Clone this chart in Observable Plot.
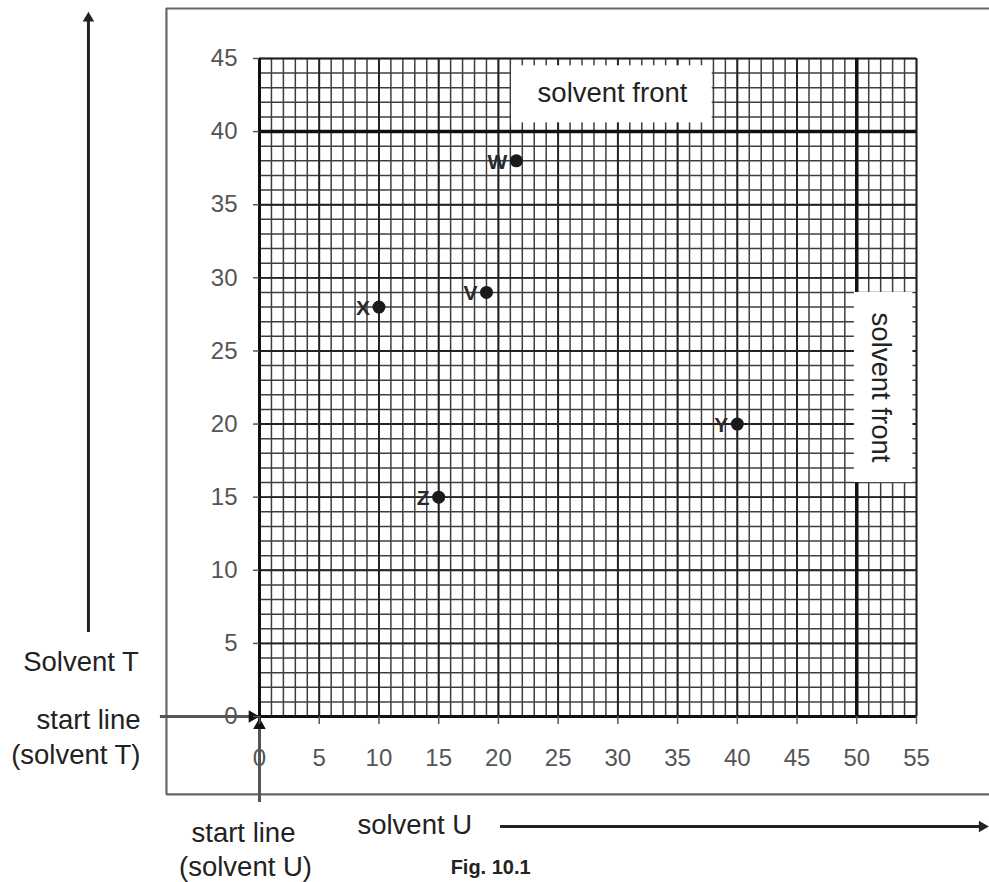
<!DOCTYPE html>
<html>
<head>
<meta charset="utf-8">
<script src="https://cdn.jsdelivr.net/npm/d3@7"></script>
<script src="https://cdn.jsdelivr.net/npm/@observablehq/plot@0.6"></script>
<style>
  html, body { margin: 0; padding: 0; background: #fff; }
  #chart { width: 989px; height: 882px; overflow: hidden; }
</style>
</head>
<body>
<div id="chart"></div>
<script>
// ---- data ----
const spotLabels = ["W", "V", "X", "Z", "Y"];
const solventU   = [21.5, 19, 10, 15, 40];   // distance moved in solvent U
const solventT   = [38, 29, 28, 15, 20];     // distance moved in solvent T

const frontT = 40;   // solvent front for T (horizontal)
const frontU = 50;   // solvent front for U (vertical)

const xTickLabels = [0, 5, 10, 15, 20, 25, 30, 35, 40, 45, 50, 55];
const yTickLabels = [0, 5, 10, 15, 20, 25, 30, 35, 40, 45];
const xMax = 55, yMax = 45;

const spots = spotLabels.map((label, i) => ({label, u: solventU[i], t: solventT[i]}));

const minorX = d3.range(0, xMax + 1);
const minorY = d3.range(0, yMax + 1);

const FONT = "'Liberation Sans', Arial, sans-serif";
const NARROW = "'Liberation Sans Narrow', 'Arial Narrow', 'Liberation Sans', Arial, sans-serif";

const chart = Plot.plot({
  width: 989,
  height: 882,
  marginLeft: 259,
  marginRight: 73,
  marginTop: 58,
  marginBottom: 166,
  x: {domain: [0, xMax]},
  y: {domain: [0, yMax]},
  style: {fontFamily: FONT, background: "#fff", color: "#222", overflow: "visible"},
  marks: [
    // outer frame (open to the right edge)
    Plot.ruleY([48.42], {x1: -7.79, x2: 63, stroke: "#666", strokeWidth: 2.2}),
    Plot.ruleY([-5.33], {x1: -7.79, x2: 63, stroke: "#666", strokeWidth: 2.2}),
    Plot.ruleX([-7.79], {y1: -5.33, y2: 48.42, stroke: "#666", strokeWidth: 2.2}),

    // graph paper grid
    Plot.ruleX(minorX, {y1: 0, y2: yMax, stroke: "#3e3e3e", strokeWidth: 1.5}),
    Plot.ruleY(minorY, {x1: 0, x2: xMax, stroke: "#3e3e3e", strokeWidth: 1.5}),
    Plot.ruleX(xTickLabels, {y1: 0, y2: yMax, stroke: "#222", strokeWidth: 1.9}),
    Plot.ruleY(yTickLabels, {x1: 0, x2: xMax, stroke: "#222", strokeWidth: 1.9}),

    // solvent fronts
    Plot.ruleY([frontT], {x1: 0, x2: xMax, stroke: "#111", strokeWidth: 3.5}),
    Plot.ruleX([frontU], {y1: 0, y2: yMax, stroke: "#111", strokeWidth: 3.5}),

    // white label boxes
    Plot.rect([{x1: 21.1, x2: 37.9, y1: 40.6, y2: 44.5}], {x1: "x1", x2: "x2", y1: "y1", y2: "y2", fill: "#fff"}),
    Plot.rect([{x1: 49.8, x2: 54.7, y1: 16, y2: 29}], {x1: "x1", x2: "x2", y1: "y1", y2: "y2", fill: "#fff"}),

    // axes / start lines
    Plot.ruleX([0], {y1: -5.88, y2: yMax, stroke: "#111", strokeWidth: 3}),
    Plot.ruleY([0], {x1: -8.29, x2: xMax, stroke: "#111", strokeWidth: 3}),
    Plot.ruleY([0], {x1: -8.29, x2: -0.5, stroke: "#555", strokeWidth: 3}),
    Plot.ruleX([0], {y1: -5.88, y2: -0.4, stroke: "#555", strokeWidth: 3}),
    Plot.dot([{x: -0.6, y: 0}], {x: "x", y: "y", symbol: "triangle2", r: 6, fill: "#111", rotate: 90}),
    Plot.dot([{x: 0, y: -0.6}], {x: "x", y: "y", symbol: "triangle2", r: 6, fill: "#111", rotate: 0}),

    Plot.axisX({ticks: xTickLabels, tickSize: 8, tickPadding: 24, fontSize: 24, fontFamily: NARROW,
                color: "#555", strokeWidth: 1.5, label: null}),
    Plot.axisY({ticks: yTickLabels, tickSize: 6, tickPadding: 16, fontSize: 24, fontFamily: NARROW,
                color: "#555", strokeWidth: 1.5, label: null}),

    // spots
    Plot.dot(spots, {x: "u", y: "t", r: 6.5, fill: "#1a1a1a"}),
    Plot.text(spots, {x: "u", y: "t", text: "label", textAnchor: "end", dx: -9, dy: 1,
                      fontSize: 21, fontWeight: "bold", fontFamily: NARROW, fill: "#2a2a2a"}),

    // solvent front labels
    Plot.text(["solvent front"], {x: 29.55, y: 42.6, fontSize: 27.5, fill: "#222"}),
    Plot.text(["solvent front"], {x: 52.0, y: 22.5, rotate: 90, fontSize: 27.5, fill: "#222"}),

    // Solvent T direction arrow (left)
    Plot.ruleX([-14.32], {y1: 5.74, y2: 47.6, stroke: "#222", strokeWidth: 3}),
    Plot.dot([{x: -14.32, y: 47.75}], {x: "x", y: "y", symbol: "triangle2", r: 5.5, fill: "#222"}),

    // solvent U direction arrow (bottom)
    Plot.ruleY([-7.52], {x1: 20.18, x2: 60.3, stroke: "#222", strokeWidth: 3}),
    Plot.dot([{x: 60.5, y: -7.52}], {x: "x", y: "y", symbol: "triangle2", r: 5.5, fill: "#222", rotate: 90}),

    // outside captions
    Plot.text(["Solvent T"], {x: -10.1, y: 3.69, textAnchor: "end", fontSize: 27.5, fill: "#222"}),
    Plot.text(["start line"], {x: -9.96, y: -0.27, textAnchor: "end", fontSize: 27.5, fill: "#222"}),
    Plot.text(["(solvent T)"], {x: -9.96, y: -2.67, textAnchor: "end", fontSize: 27.5, fill: "#222"}),
    Plot.text(["start line"], {x: -1.34, y: -8.0, fontSize: 27.5, fill: "#222"}),
    Plot.text(["(solvent U)"], {x: -1.17, y: -10.33, fontSize: 27.5, fill: "#222"}),
    Plot.text(["solvent U"], {x: 8.2, y: -7.45, textAnchor: "start", fontSize: 27.5, fill: "#222"}),
    Plot.text(["Fig. 10.1"], {x: 16.0, y: -10.3, textAnchor: "start", fontSize: 20, fontWeight: "bold", fill: "#222"})
  ]
});

document.getElementById("chart").appendChild(chart);
</script>
</body>
</html>
